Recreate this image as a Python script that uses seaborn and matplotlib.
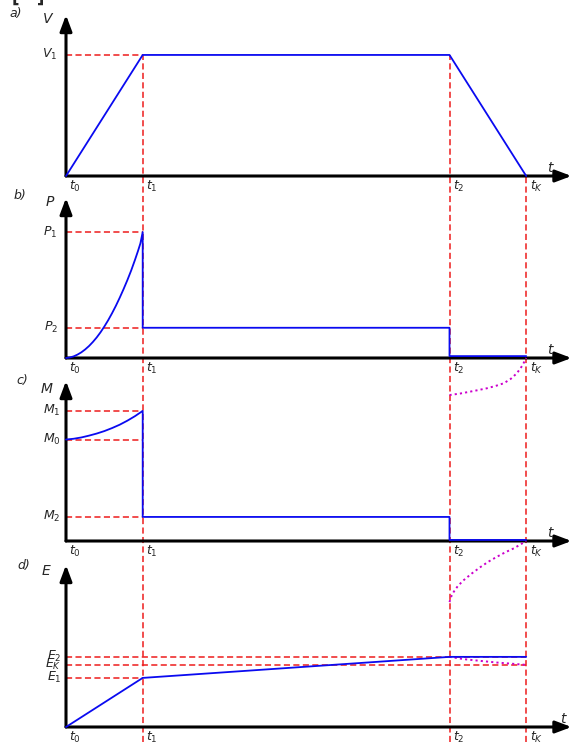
import matplotlib
matplotlib.use("Agg")
import matplotlib.pyplot as plt
import seaborn as sns

sns.set_style("white")
plt.rcParams['font.family'] = ['DejaVu Sans']
plt.rcParams['mathtext.fontset'] = 'dejavusans'

# ---------------- data ----------------
t_marks = [0, 1, 5, 6]
t_labels = [r'$t_{\mathit{0}}$', r'$t_{\mathit{1}}$', r'$t_{\mathit{2}}$', r'$t_K$']

# a) speed
V_t = [0, 1, 5, 6]
V_v = [0, 1.0, 1.0, 0]
V_levels = [1.0]
V_level_labels = [r'$V_{\mathit{1}}$']

# b) power
P_t = [0, 0.05, 0.1, 0.15, 0.2, 0.25, 0.3, 0.35, 0.4, 0.45, 0.5, 0.55, 0.6, 0.65,
       0.7, 0.75, 0.8, 0.85, 0.9, 0.94, 0.97, 1.0, 1.0, 5, 5, 6]
P_v = [0, 0.004, 0.013, 0.027, 0.045, 0.068, 0.095, 0.127, 0.163, 0.204, 0.25, 0.30,
       0.355, 0.414, 0.478, 0.546, 0.618, 0.695, 0.78, 0.852, 0.91, 1.0, 0.24, 0.24,
       0.015, 0.015]
P_drop_t = [5, 5.14, 5.27, 5.38, 5.49, 5.6, 5.71, 5.8, 5.88, 5.95, 6.0]
P_drop_v = [-0.294, -0.282, -0.267, -0.254, -0.24, -0.222, -0.20, -0.165, -0.12, -0.06, 0.0]
P_levels = [1.0, 0.24]
P_level_labels = [r'$P_{\mathit{1}}$', r'$P_{\mathit{2}}$']

# c) torque
M_t = [0, 0.1, 0.2, 0.3, 0.4, 0.5, 0.6, 0.7, 0.8, 0.9, 1.0, 1.0, 5, 5, 6]
M_v = [0.78, 0.786, 0.796, 0.81, 0.826, 0.845, 0.868, 0.894, 0.925, 0.96, 1.0,
       0.185, 0.185, 0.008, 0.008]
M_drop_t = [5, 5.02, 5.056, 5.11, 5.187, 5.29, 5.404, 5.51, 5.622, 5.73, 5.84, 5.93, 6.0]
M_drop_v = [-0.47, -0.43, -0.39, -0.345, -0.30, -0.25, -0.20, -0.158, -0.12, -0.086,
            -0.056, -0.025, 0.0]
M_levels = [1.0, 0.78, 0.185]
M_level_labels = [r'$M_{\mathit{1}}$', r'$M_{\mathit{0}}$', r'$M_{\mathit{2}}$']

# d) energy
E_t = [0, 1, 5, 6]
E_v = [0, 0.70, 1.0, 1.0]
E_drop_t = [5, 5.19, 5.40, 5.62, 5.84, 6.0]
E_drop_v = [1.0, 0.967, 0.943, 0.919, 0.90, 0.886]
E_levels = [1.0, 0.886, 0.70]
E_level_labels = [r'$E_{\mathit{2}}$', r'$E_K$', r'$E_{\mathit{1}}$']
E_level_ends = [6, 6, 1]

# ---------------- layout ----------------
W, H = 569, 742
fig = plt.figure(figsize=(W / 100, H / 100), dpi=100)

x0_px, x1_px = 66, 569
px_per_t = 76.7
xmax = (x1_px - x0_px) / px_per_t

# (baseline px, top px, ymax)
panels = [
    (176, 15, 1.33),
    (358, 198, 1.27),
    (541, 381, 1.23),
    (727, 565, 2.31),
]

BLUE = '#0a0af0'
RED = '#ee1c1c'
MAG = '#cc00cc'
FS = 9

axes = []
for (yb, yt, ymax) in panels:
    ax = fig.add_axes([x0_px / W, 1 - yb / H, (x1_px - x0_px) / W, (yb - yt) / H])
    ax.set_xlim(0, xmax)
    ax.set_ylim(0, ymax)
    ax.axis('off')
    ax.patch.set_alpha(0)
    ax.annotate('', xy=(0, 1), xytext=(0, 0), xycoords='axes fraction',
                arrowprops=dict(arrowstyle='-|>,head_length=0.48,head_width=0.18',
                                mutation_scale=20, lw=2.2, color='black',
                                shrinkA=0, shrinkB=0), zorder=3)
    ax.annotate('', xy=(1.005, 0), xytext=(0, 0), xycoords='axes fraction',
                arrowprops=dict(arrowstyle='-|>,head_length=0.48,head_width=0.18',
                                mutation_scale=20, lw=2.2, color='black',
                                shrinkA=0, shrinkB=0), zorder=3)
    for tm, tl in zip(t_marks, t_labels):
        ax.annotate(tl, xy=(tm, 0), xytext=(2.5, -7.5), textcoords='offset points',
                    ha='left', va='center', fontsize=FS)
    axes.append(ax)

ax_a, ax_b, ax_c, ax_d = axes

line_kw = dict(estimator=None, sort=False, color=BLUE, lw=1.3, clip_on=False, zorder=5)
drop_kw = dict(estimator=None, sort=False, color=MAG, lw=1.4, clip_on=False, zorder=4,
               linestyle=(0, (1.1, 1.6)))
red_kw = dict(colors=RED, lw=1.1, linestyles=(0, (4, 2.2)), clip_on=False, zorder=1)

sns.lineplot(x=V_t, y=V_v, ax=ax_a, **line_kw)
sns.lineplot(x=P_t, y=P_v, ax=ax_b, **line_kw)
sns.lineplot(x=P_drop_t, y=P_drop_v, ax=ax_b, **drop_kw)
sns.lineplot(x=M_t, y=M_v, ax=ax_c, **line_kw)
sns.lineplot(x=M_drop_t, y=M_drop_v, ax=ax_c, **drop_kw)
sns.lineplot(x=E_t, y=E_v, ax=ax_d, **line_kw)
sns.lineplot(x=E_drop_t, y=E_drop_v, ax=ax_d, **drop_kw)

def levels(ax, vals, labs, ends, dx):
    for v, lab, e in zip(vals, labs, ends):
        ax.hlines(v, 0, e, **red_kw)
        ax.annotate(lab, xy=(0, v), xytext=(dx, 0), textcoords='offset points',
                    ha='right', va='center', fontsize=FS)

levels(ax_a, V_levels, V_level_labels, [t_marks[1]], -6)
levels(ax_b, P_levels, P_level_labels, [t_marks[1]] * 2, -6)
levels(ax_c, M_levels, M_level_labels, [t_marks[1]] * 3, -4)
levels(ax_d, E_levels, E_level_labels, E_level_ends, -3.5)

# axis letters and panel tags
letters = ['V', 'P', 'M', 'E']
letter_px = [(48, 19), (50, 202), (47, 389), (46, 571)]
tags = ['a)', 'b)', 'c)', 'd)']
tag_px = [(16, 13), (20, 196), (22, 380), (24, 565)]
tlab_px = [(551, 168), (551, 350), (551, 533), (564, 719)]
for L, (lx, ly), tg, (gx, gy), (sx, sy) in zip(letters, letter_px, tags, tag_px, tlab_px):
    fig.text(lx / W, 1 - ly / H, f'${L}$', ha='center', va='center', fontsize=10)
    fig.text(gx / W, 1 - gy / H, tg, ha='center', va='center', fontsize=FS, style='italic')
    fig.text(sx / W, 1 - sy / H, '$t$', ha='center', va='center', fontsize=10)

fig.text(12 / W, 1 - 3 / H, '[   ]', ha='left', va='baseline', fontsize=12, weight='bold')

# vertical red guides across all panels
ov = fig.add_axes([x0_px / W, 0, (x1_px - x0_px) / W, 1])
ov.set_xlim(0, xmax)
ov.set_ylim(0, 1)
ov.axis('off')
ov.patch.set_alpha(0)
ov.set_zorder(-1)
inv = fig.transFigure.inverted()
def yfrac(ax, t, v):
    return inv.transform(ax.transData.transform((t, v)))[1]
ov.vlines(t_marks[1], 0, yfrac(ax_a, t_marks[1], V_levels[0]), **red_kw)
ov.vlines(t_marks[2], 0, yfrac(ax_a, t_marks[2], V_levels[0]), **red_kw)
ov.vlines(t_marks[3], 0, yfrac(ax_a, t_marks[3], 0), **red_kw)

fig.savefig('out.png', dpi=100)
